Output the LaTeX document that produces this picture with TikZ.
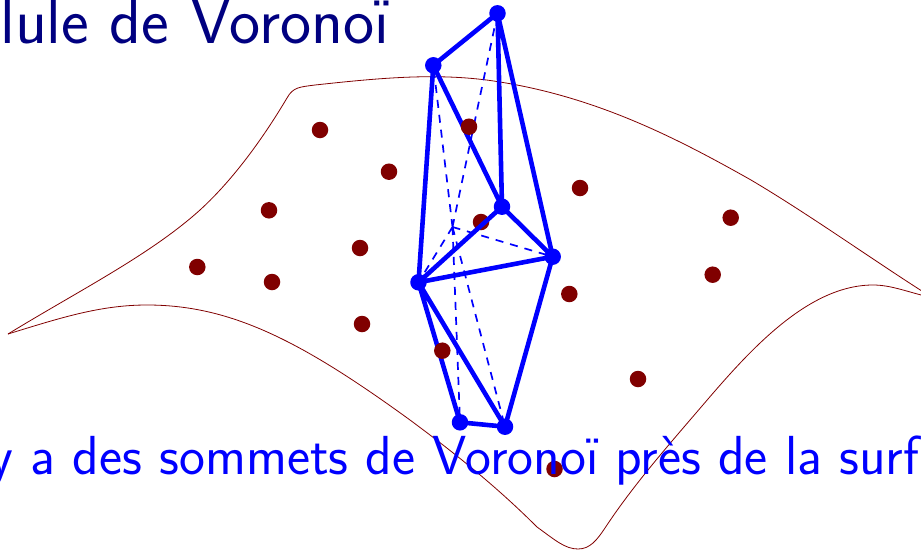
\documentclass[tikz,border=0pt]{standalone}
\definecolor{dred}{rgb}{0.5,0,0}
\definecolor{dnavy}{rgb}{0,0,0.5}
\tikzset{
  cell/.style={blue,line width=4.6pt,line cap=round},
  hid/.style={blue,line width=1.7pt,dash pattern=on 8pt off 7pt},
  vtx/.style={circle,fill=blue,inner sep=0pt,minimum size=16.5pt},
  site/.style={circle,fill=dred,inner sep=0pt,minimum size=16.5pt},
  title/.style={inner sep=0pt,font=\sffamily},
  surf/.style={dred,line width=0.8pt}
}
\begin{document}
\begin{tikzpicture}[x=1pt,y=-1pt]
\clip (0,0) rectangle (921,549);
\useasboundingbox (0,0) rectangle (921,549);
\node[title,text=dnavy,anchor=base east,font=\sffamily\fontsize{66}{70}\selectfont] (t1) at (389,43) {Cellule de Voronoï};
\draw[surf] (8,334) .. controls (80,290) and (150,255) .. (200,210)
  .. controls (235,178) and (265,135) .. (287,98)
  .. controls (293,87) and (300,87) .. (315,85)
  .. controls (380,78) and (440,72) .. (500,82)
  .. controls (600,98) and (680,140) .. (751,180)
  .. controls (810,215) and (870,258) .. (925,293);
\draw[surf] (925,296) .. controls (905,291) and (890,285) .. (873,285)
  .. controls (800,285) and (735,368) .. (690,420)
  .. controls (660,455) and (630,490) .. (605,528)
  .. controls (597,540) and (590,549) .. (578,549)
  .. controls (565,549) and (555,540) .. (537,527)
  .. controls (500,490) and (460,457) .. (410,420)
  .. controls (300,340) and (230,305) .. (147,305)
  .. controls (100,305) and (60,318) .. (8,334);
\node[site] (s1) at (554.5,469) {};
\node[title,text=blue,anchor=base west,font=\sffamily\fontsize{55}{60}\selectfont] (t2) at (-54,474) {Il y a des sommets de Voronoï près de la surface};
\foreach \n/\x/\y in {a/497.5/13.3,b/433.3/65.3,c/502/206.7,d/552.7/256.7,e/418.5/282.3,f/460/422.3,g/505/426.7,h/452.5/227}
  {\coordinate (\n) at (\x,\y);}
\node[site] (s2) at (481,222) {};
\draw[hid] (h) -- (a) (h) -- (b) (h) -- (d) (h) -- (e) (h) -- (f) (h) -- (g);
\draw[cell] (a) -- (b) (a) -- (c) (a) -- (d) (b) -- (c) (b) -- (e) (c) -- (d) (c) -- (e) (d) -- (e) (d) -- (g) (e) -- (f) (e) -- (g) (f) -- (g);
\foreach \n in {a,b,c,d,e,f,g}{\node[vtx] (v\n) at (\n) {};}
\foreach \n/\x/\y in {p1/320/130,p2/389/171.7,p3/269/210.3,p4/360/248,p5/197.3/267,p6/272/282,p7/362/324,p8/442.3/350.7,p9/469/126.7,p10/580/188,p11/730.7/217.7,p12/712.7/274.7,p13/569.3/294,p14/638/379}
  {\node[site] (\n) at (\x,\y) {};}
\end{tikzpicture}
\end{document}
